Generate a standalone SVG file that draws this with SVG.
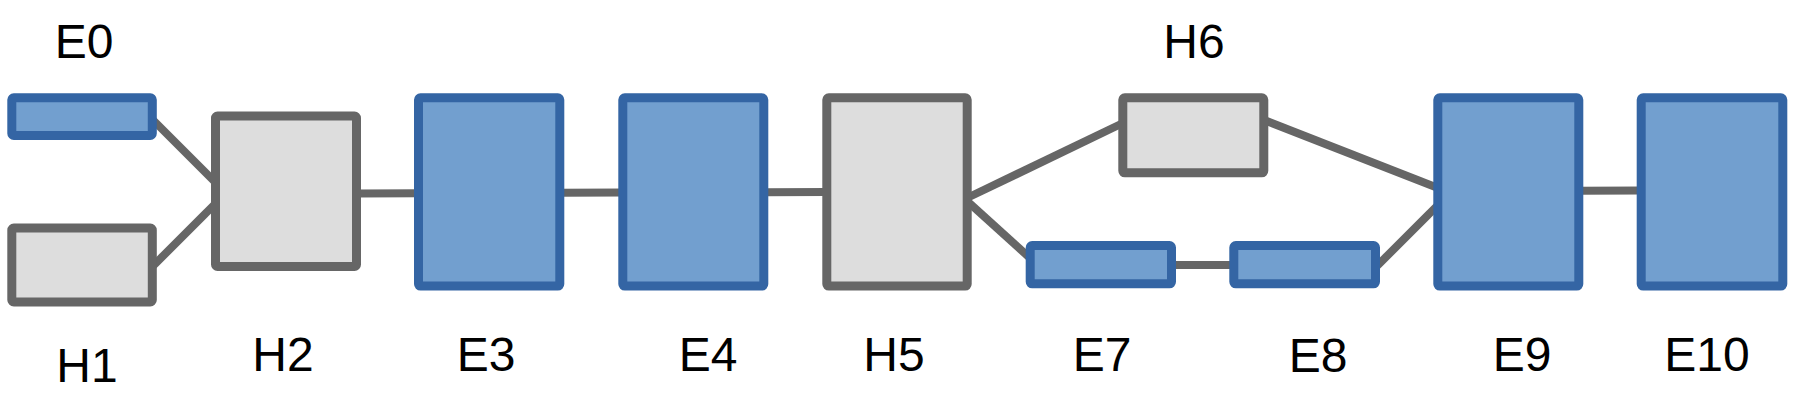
<svg xmlns="http://www.w3.org/2000/svg" width="1795" height="402" viewBox="0 0 1795 402">
<style>
.e{fill:#729fcf;stroke:#3465a4;stroke-width:9}
.h{fill:#dddddd;stroke:#666666;stroke-width:9}
.c line{stroke:#666666;stroke-width:8}
text{font-family:"Liberation Sans",Arial,sans-serif;font-size:48px;fill:#000;text-anchor:middle}
</style>
<rect width="1795" height="402" fill="#fff"/>
<g id="connectors" class="c">
<line x1="152" y1="119" x2="215" y2="182"/>
<line x1="152" y1="267" x2="215" y2="204"/>
<line x1="357" y1="193.5" x2="419" y2="193.2"/>
<line x1="560" y1="192.8" x2="623" y2="192.5"/>
<line x1="764" y1="192.3" x2="827" y2="192"/>
<line x1="967" y1="198" x2="1123" y2="123"/>
<line x1="967" y1="201" x2="1030" y2="258"/>
<line x1="1171" y1="265" x2="1234" y2="265"/>
<line x1="1264" y1="120" x2="1438" y2="188"/>
<line x1="1375" y1="268" x2="1438" y2="205"/>
<line x1="1579" y1="190.8" x2="1641" y2="190.6"/>
</g>
<g id="E0"><rect class="e" x="11.8" y="97.8" width="140.5" height="37.7" rx="2"/><text x="84" y="58">E0</text></g>
<g id="H1"><rect class="h" x="11.8" y="228" width="140.5" height="74" rx="2"/><text x="87" y="382">H1</text></g>
<g id="H2"><rect class="h" x="215.5" y="116" width="141" height="150.5" rx="2"/><text x="283" y="371">H2</text></g>
<g id="E3"><rect class="e" x="418.5" y="97.8" width="141.3" height="188.3" rx="2"/><text x="486" y="371">E3</text></g>
<g id="E4"><rect class="e" x="622.8" y="97.8" width="141" height="188.3" rx="2"/><text x="708" y="371">E4</text></g>
<g id="H5"><rect class="h" x="826.8" y="97.8" width="140.4" height="188.3" rx="2"/><text x="894" y="371">H5</text></g>
<g id="H6"><rect class="h" x="1122.8" y="97.8" width="141" height="75" rx="2"/><text x="1194" y="58">H6</text></g>
<g id="E7"><rect class="e" x="1030.2" y="245.5" width="141.3" height="38.3" rx="2"/><text x="1102" y="371">E7</text></g>
<g id="E8"><rect class="e" x="1233.8" y="245.5" width="141.7" height="38.3" rx="2"/><text x="1318" y="372">E8</text></g>
<g id="E9"><rect class="e" x="1437.8" y="97.8" width="141" height="188.3" rx="2"/><text x="1522" y="371">E9</text></g>
<g id="E10"><rect class="e" x="1641.2" y="97.8" width="141.6" height="188.3" rx="2"/><text x="1707" y="371">E10</text></g>
</svg>
